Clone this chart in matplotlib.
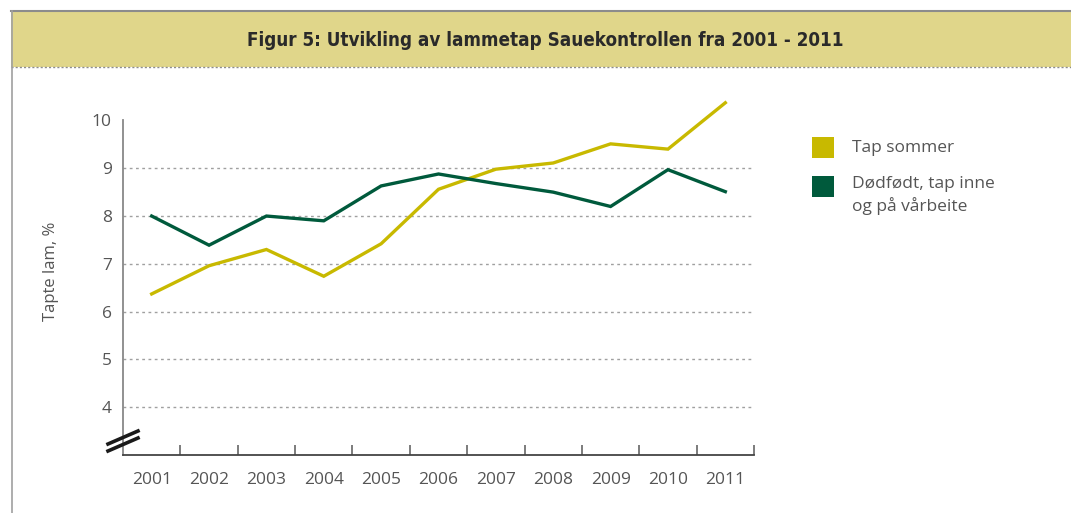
import matplotlib
matplotlib.use("Agg")
import matplotlib.pyplot as plt
from matplotlib.patches import Rectangle
from matplotlib.lines import Line2D

years = [2001, 2002, 2003, 2004, 2005, 2006, 2007, 2008, 2009, 2010, 2011]
tap_sommer = [6.37, 6.96, 7.30, 6.74, 7.42, 8.56, 8.98, 9.11, 9.51, 9.40, 10.37]
dodfodt = [8.00, 7.39, 8.00, 7.90, 8.63, 8.88, 8.68, 8.50, 8.20, 8.97, 8.51]
y_ticks = [4, 5, 6, 7, 8, 9, 10]
series_labels = ["Tap sommer", "Dødfødt, tap inne\nog på vårbeite"]
title = "Figur 5: Utvikling av lammetap Sauekontrollen fra 2001 - 2011"
ylabel = "Tapte lam, %"

YELLOW = "#C8B900"
GREEN = "#005A3C"
TXT = "#555555"
FONT = ["Open Sans", "DejaVu Sans"]

fig = plt.figure(figsize=(10.71, 5.13), dpi=100)
W, H = 1071, 513

def fx(px):
    return px / W

def fy(py):
    return 1 - py / H

# header
fig.patches.append(Rectangle((fx(11), fy(67)), 1 - fx(11), fy(11) - fy(67),
                             transform=fig.transFigure, facecolor="#E0D68A",
                             edgecolor="none", zorder=0))
fig.lines.append(Line2D([fx(11), 1], [fy(11), fy(11)], transform=fig.transFigure,
                        color="#8c8c8c", lw=1.5))
fig.lines.append(Line2D([fx(11), 1], [fy(67), fy(67)], transform=fig.transFigure,
                        color="#8c8c8c", lw=1.0, ls=(0, (1.5, 1.5))))
fig.lines.append(Line2D([fx(11.5), fx(11.5)], [0, fy(11)], transform=fig.transFigure,
                        color="#a0a0a0", lw=1.2))
fig.text(fx(545), fy(41), title, ha="center", va="center", fontsize=13.5,
         fontweight="semibold", color="#2a2a2a", family=["DejaVu Sans", "DejaVu Sans"],
         fontstretch="condensed")

ax = fig.add_axes([fx(123), fy(455), fx(754) - fx(123), fy(87) - fy(455)])
ax.set_xlim(2000.5, 2011.5)
ax.set_ylim(3, 10.7)

for v in y_ticks[:-1]:
    ax.axhline(v, color="#a0a0a0", lw=1.0, ls=(0, (2, 2.5)), zorder=1)

ax.plot(years, tap_sommer, color=YELLOW, lw=2.4, zorder=3, clip_on=False,
        solid_joinstyle="miter")
ax.plot(years, dodfodt, color=GREEN, lw=2.4, zorder=3, clip_on=False,
        solid_joinstyle="miter")

for s in ["top", "right"]:
    ax.spines[s].set_visible(False)
ax.spines["left"].set_bounds(3, 10)
ax.spines["left"].set_color("#888888")
ax.spines["left"].set_linewidth(1.3)
ax.spines["bottom"].set_color("#444444")
ax.spines["bottom"].set_linewidth(1.3)

ax.set_yticks(y_ticks)
ax.set_yticklabels([str(v) for v in y_ticks], fontsize=12.5, color=TXT, family=FONT)
ax.tick_params(axis="y", length=0, pad=8)

ax.set_xticks([y + 0.5 for y in years[:-1]] + [2011.5])
ax.set_xticklabels([])
ax.tick_params(axis="x", which="major", direction="in", length=7, color="#666666", width=1.2)
ax.set_xticks(years, minor=True)
ax.set_xticklabels([str(y) for y in years], minor=True, fontsize=12.5, color=TXT, family=FONT)
ax.tick_params(axis="x", which="minor", length=0, pad=12)

ax.set_ylabel(ylabel, fontsize=12, color=TXT, family=FONT, labelpad=24)

# axis break marks
for y0, y1 in [(451, 438), (444, 431)]:
    fig.lines.append(Line2D([fx(108), fx(138)], [fy(y0), fy(y1)], transform=fig.transFigure,
                            color="#1a1a1a", lw=2.6))

# legend
for (ypx, col, lab, ty) in [(137, YELLOW, series_labels[0], 148), (176, GREEN, series_labels[1], 176)]:
    fig.patches.append(Rectangle((fx(812), fy(ypx + 21)), fx(22), fy(ypx) - fy(ypx + 21),
                                 transform=fig.transFigure, facecolor=col, edgecolor="none"))
    fig.text(fx(852), fy(ty), lab, ha="left", va="top" if "\n" in lab else "center",
             fontsize=12.5, color=TXT, family=FONT, linespacing=1.35)

fig.savefig("out.png", dpi=100)
